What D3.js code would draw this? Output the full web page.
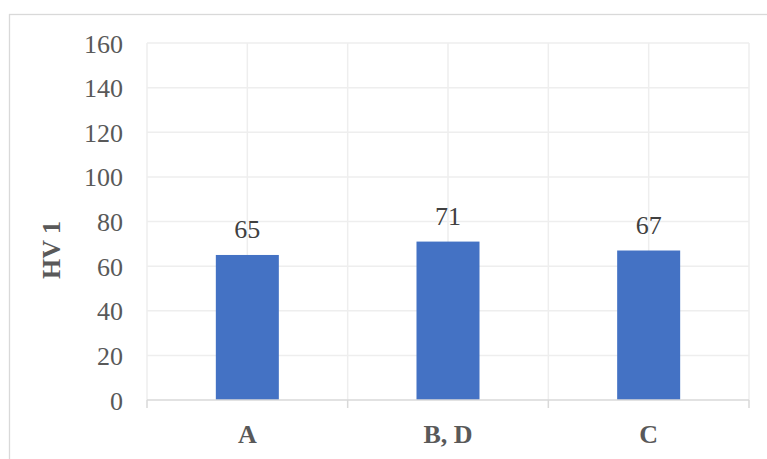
<!DOCTYPE html>
<html>
<head>
<meta charset="utf-8">
<script src="https://cdn.jsdelivr.net/npm/d3@7"></script>
<style>
body{margin:0;}
text{font-family:"Liberation Serif" !important;}
</style>
</head>
<body>
<svg id="chart" width="767" height="459"></svg>
<script>
const categories = ["A", "B, D", "C"];
const values = [65, 71, 67];
const yTicks = [0, 20, 40, 60, 80, 100, 120, 140, 160];
const yTitle = "HV 1";

const svg = d3.select("#chart");
const W = 767, H = 459;
const m = {left: 147, right: 18, top: 43, bottom: 59};
const x0 = m.left, x1 = W - m.right, y0 = H - m.bottom, y1 = m.top;

function serif(sel, size, bold) {
  sel.attr("font-family", "Liberation Serif")
    .style("font-family", '"Liberation Serif"')
    .style("font-size", size + "px")
    .style("font-weight", bold ? "bold" : "normal");
  return sel;
}

// outer chart border
svg.append("rect").attr("x", 9.5).attr("y", 14.5).attr("width", 800).attr("height", 500)
  .attr("fill", "none").attr("stroke", "#d9d9d9").attr("stroke-width", 1.3);

const xs = d3.scaleBand().domain(categories).range([x0, x1]).paddingInner(0.686).paddingOuter(0.343);
const ys = d3.scaleLinear().domain([0, 160]).range([y0, y1]);
const step = xs.step();
const firstEdge = xs(categories[0]) - (step - xs.bandwidth()) / 2;

// horizontal gridlines
svg.append("g").selectAll("line").data(yTicks.filter(d => d > 0)).join("line")
  .attr("x1", x0).attr("x2", x1)
  .attr("y1", d => ys(d)).attr("y2", d => ys(d))
  .attr("stroke", "#eeeeee").attr("stroke-width", 1.5);

// vertical gridlines at category edges and centres
const vx = [];
categories.forEach((c, i) => {
  vx.push(firstEdge + i * step);
  vx.push(xs(c) + xs.bandwidth() / 2);
});
vx.push(firstEdge + categories.length * step);
svg.append("g").selectAll("line").data(vx).join("line")
  .attr("x1", d => d).attr("x2", d => d)
  .attr("y1", y1).attr("y2", y0)
  .attr("stroke", "#eeeeee").attr("stroke-width", 1.5);

// bars
svg.append("g").selectAll("rect").data(values).join("rect")
  .attr("x", (d, i) => xs(categories[i]))
  .attr("width", xs.bandwidth())
  .attr("y", d => ys(d))
  .attr("height", d => y0 - ys(d))
  .attr("fill", "#4472c4");

// data labels
serif(svg.append("g").selectAll("text").data(values).join("text")
  .attr("x", (d, i) => xs(categories[i]) + xs.bandwidth() / 2)
  .attr("y", d => ys(d) - 17)
  .attr("text-anchor", "middle")
  .attr("fill", "#404040")
  .text(d => d), 26, false);

// x axis
const gx = svg.append("g").attr("transform", `translate(0,${y0})`)
  .call(d3.axisBottom(xs).tickSize(0).tickPadding(0));
gx.attr("font-family", null).attr("font-size", null);
gx.select(".domain").remove();
serif(gx.selectAll("text").attr("dy", null).attr("y", 43).attr("fill", "#595959"), 26, true);
svg.append("line").attr("x1", x0).attr("x2", x1).attr("y1", y0).attr("y2", y0)
  .attr("stroke", "#d9d9d9").attr("stroke-width", 1.5);
svg.append("g").selectAll("line").data(d3.range(categories.length + 1)).join("line")
  .attr("x1", i => firstEdge + i * step).attr("x2", i => firstEdge + i * step)
  .attr("y1", y0).attr("y2", y0 + 8)
  .attr("stroke", "#d9d9d9").attr("stroke-width", 1.5);

// y axis
const gy = svg.append("g").attr("transform", `translate(${x0},0)`)
  .call(d3.axisLeft(ys).tickValues(yTicks).tickSize(0).tickPadding(24));
gy.attr("font-family", null).attr("font-size", null);
gy.select(".domain").remove();
serif(gy.selectAll("text").attr("dy", "0.35em").attr("fill", "#595959"), 26, false);

// y title
serif(svg.append("text")
  .attr("transform", `translate(60,250) rotate(-90)`)
  .attr("text-anchor", "middle")
  .attr("fill", "#595959")
  .text(yTitle), 26, true);
</script>
</body>
</html>
